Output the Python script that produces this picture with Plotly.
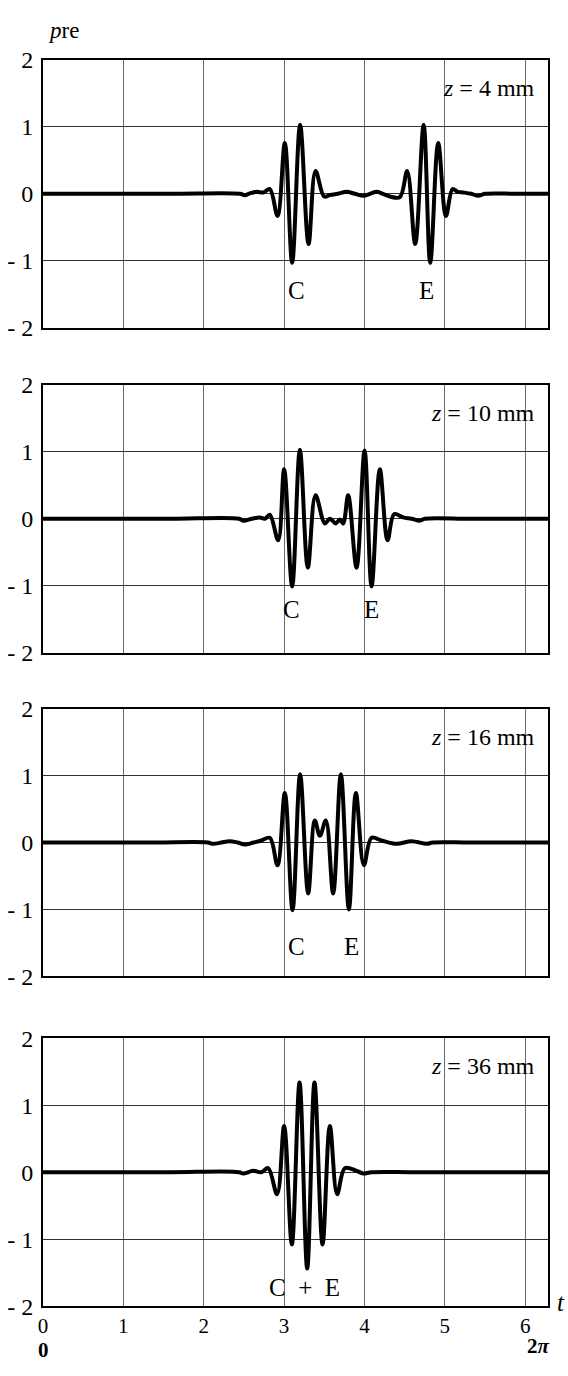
import plotly.graph_objects as go
import math

# ---- data ----
t_z4 = [0, 0.8, 1.6, 2.45, 2.51, 2.58, 2.66, 2.74, 2.822, 2.918, 3.009, 3.100, 3.199, 3.304, 3.391, 3.498,
        3.569, 3.670, 3.777, 3.880, 3.984, 4.070, 4.150, 4.230, 4.316, 4.440, 4.531, 4.631,
        4.736, 4.818, 4.917, 5.013, 5.096, 5.160, 5.229, 5.330, 5.415, 5.50, 5.9, 6.283]
p_z4 = [0, 0, 0, 0, -0.02, 0.01, 0.03, 0.02, 0.07, -0.33, 0.76, -1.03, 1.03, -0.75, 0.34, -0.04,
        -0.02, 0.0, 0.03, 0.0, -0.03, 0.0, 0.03, 0.0, -0.04, -0.05, 0.34, -0.75,
        1.03, -1.03, 0.76, -0.33, 0.07, 0.03, 0.02, 0.0, -0.03, 0, 0, 0]

t_z10 = [0, 0.8, 1.6, 2.44, 2.490, 2.600, 2.698, 2.760, 2.822, 2.926, 3.000, 3.100, 3.196, 3.295, 3.391,
         3.507, 3.569, 3.644, 3.693, 3.735, 3.797, 3.901, 4.001, 4.088, 4.191, 4.287, 4.370,
         4.482, 4.586, 4.689, 4.75, 5.3, 5.8, 6.283]
p_z10 = [0, 0, 0, 0, -0.03, 0.0, 0.02, 0.0, 0.06, -0.32, 0.74, -1.01, 1.03, -0.73, 0.35,
         -0.07, 0.0, -0.07, -0.01, -0.07, 0.35, -0.73, 1.02, -1.01, 0.74, -0.32, 0.07,
         0.02, 0.0, -0.03, 0, 0, 0, 0]

t_z16 = [0, 0.7, 1.4, 2.05, 2.116, 2.22, 2.324, 2.42, 2.511, 2.62, 2.719, 2.822, 2.918, 3.009, 3.105, 3.199,
         3.299, 3.382, 3.445, 3.519, 3.610, 3.706, 3.806, 3.893, 3.992, 4.088, 4.213, 4.399,
         4.586, 4.773, 4.85, 5.3, 5.8, 6.283]
p_z16 = [0, 0, 0, 0, -0.02, 0.0, 0.02, 0.0, -0.03, 0.0, 0.03, 0.07, -0.34, 0.74, -1.01, 1.02,
         -0.76, 0.33, 0.10, 0.33, -0.76, 1.02, -1.00, 0.74, -0.34, 0.07, 0.03, -0.02,
         0.02, -0.02, 0, 0, 0, 0]

t_z36 = [0, 0.8, 1.6, 2.44, 2.490, 2.614, 2.718, 2.801, 2.913, 3.000, 3.096, 3.192, 3.287, 3.378, 3.478,
         3.569, 3.660, 3.756, 3.901, 3.984, 4.088, 4.6, 5.2, 5.8, 6.283]
p_z36 = [0, 0, 0, 0, -0.02, 0.02, 0.0, 0.06, -0.33, 0.69, -1.08, 1.34, -1.44, 1.34, -1.08,
         0.69, -0.33, 0.06, 0.02, -0.02, 0, 0, 0, 0, 0]

panel_labels = ["4", "10", "16", "36"]
c_labels = [("C", 3.154, -1.45), ("E", 4.773, -1.45)]
c_labels2 = [("C", 3.092, -1.36), ("E", 4.088, -1.36)]
c_labels3 = [("C", 3.154, -1.55), ("E", 3.839, -1.55)]
c_labels4 = [("C  +  E", 3.25, -1.72)]

y_ticks = [-2, -1, 0, 1, 2]
y_ticktext = ["- 2", "- 1", "0", "1", "2"]
x_ticks = [0, 1, 2, 3, 4, 5, 6]
x_ticktext = ["0", "1", "2", "3", "4", "5", "6"]

# ---- layout geometry ----
H, W = 1376, 568
panels_px = [(47.7, 320.9), (379, 652), (709, 982), (1045, 1318)]
domains = [[1 - b / H, 1 - t / H] for t, b in panels_px]

FONT = "Liberation Serif, Times New Roman, serif"

series = [(t_z4, p_z4), (t_z10, p_z10), (t_z16, p_z16), (t_z36, p_z36)]
labels = [c_labels, c_labels2, c_labels3, c_labels4]

fig = go.Figure()
annotations = []
layout = dict(
    width=W, height=H,
    margin=dict(l=43, r=20, t=0, b=0),
    paper_bgcolor="white", plot_bgcolor="white",
    showlegend=False,
    font=dict(family=FONT, size=24, color="black"),
)

for i, ((tt, pp), dom) in enumerate(zip(series, domains)):
    n = "" if i == 0 else str(i + 1)
    xa, ya = "x" + n, "y" + n
    fig.add_trace(go.Scatter(x=tt, y=pp, mode="lines", xaxis=xa, yaxis=ya,
                             line=dict(color="black", width=4, shape="spline", smoothing=1.0),
                             hoverinfo="skip"))
    last = (i == 3)
    layout["xaxis" + n] = dict(
        domain=[0, 1], anchor=ya, range=[0, 2 * math.pi],
        tickvals=x_ticks, ticktext=x_ticktext, showticklabels=last,
        ticks="", showgrid=True, gridcolor="#6a6a6a", gridwidth=1,
        zeroline=False, showline=True, linecolor="black", linewidth=2, mirror=True,
        tickfont=dict(family=FONT, size=21), ticklabelstandoff=0,
    )
    layout["yaxis" + n] = dict(
        domain=dom, anchor=xa, range=[-2, 2],
        tickvals=y_ticks, ticktext=y_ticktext,
        ticks="", showgrid=True, gridcolor="#333333", gridwidth=1,
        zeroline=False, showline=True, linecolor="black", linewidth=2, mirror=True,
        tickfont=dict(family=FONT, size=24), ticklabelstandoff=3,
    )
    annotations.append(dict(
        xref=xa, yref=ya, x=6.15, y=1.58, xanchor="right", yanchor="middle",
        text="<i>z</i> = " + panel_labels[i] + " mm", showarrow=False,
        font=dict(family=FONT, size=24, color="black")))
    for txt, lx, ly in labels[i]:
        annotations.append(dict(
            xref=xa, yref=ya, x=lx, y=ly, xanchor="center", yanchor="middle",
            text=txt, showarrow=False, font=dict(family=FONT, size=25, color="black")))

annotations += [
    dict(xref="paper", yref="paper", x=(46 - 43) / 505, y=1 - 18 / H, xanchor="left", yanchor="middle",
         text="<i>p</i>re", showarrow=False, font=dict(family=FONT, size=23)),
    dict(xref="paper", yref="paper", x=(561 - 43) / 505, y=1 - 1314 / H, xanchor="center", yanchor="middle",
         text="<i>t</i>", showarrow=False, font=dict(family=FONT, size=25)),
    dict(xref="paper", yref="paper", x=0, y=0, xanchor="center", yanchor="bottom",
         text="<b>0</b>", showarrow=False, borderpad=0, font=dict(family=FONT, size=21)),
    dict(xref="paper", yref="paper", x=(538 - 43) / 505, y=0.003, xanchor="center", yanchor="bottom",
         text="<b>2<i>π</i></b>", showarrow=False, borderpad=0, font=dict(family=FONT, size=21)),
]
layout["annotations"] = annotations
fig.update_layout(**layout)
fig.write_html("out.html")
